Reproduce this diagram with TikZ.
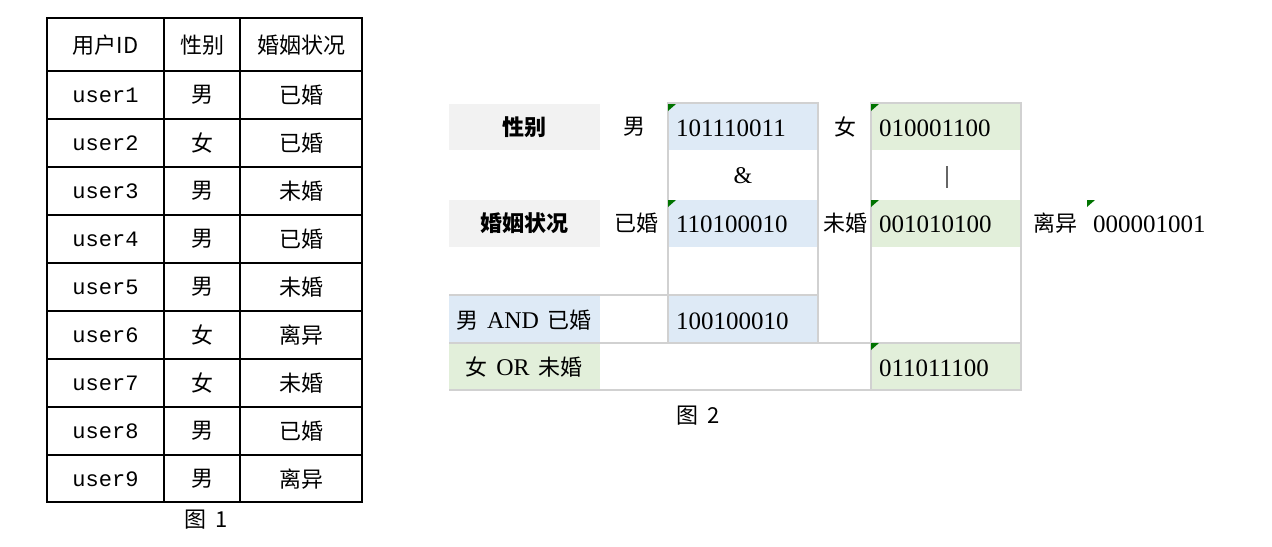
\documentclass[tikz,border=0pt]{standalone}
\usepackage{fontspec}
\setmainfont{Liberation Serif}
\newfontfamily\cjk{Noto Sans CJK SC}
\newfontfamily\cjkm{Noto Sans CJK SC Medium}
\newfontfamily\monof{Liberation Mono}
\begin{document}
\begin{tikzpicture}[x=0.5pt,y=-0.5pt,
  tl/.style={font=\cjk\fontsize{11}{13}\selectfont},
  num/.style={font=\fontsize{12.5}{14}\selectfont,anchor=west},
  hd/.style={font=\cjk\bfseries\fontsize{11}{13}\selectfont},
  grid/.style={draw=black!18,line width=0.7pt},
  tri/.style={fill=green!45!black}]
\useasboundingbox (0,0) rectangle (1272,546);
\definecolor{gbg}{RGB}{242,242,242}
\definecolor{bbg}{RGB}{222,234,246}
\definecolor{ggbg}{RGB}{226,239,218}
% left table
\draw[line width=0.8pt] (47,18) rectangle (362,502);
\foreach \x in {164,240} \draw[line width=0.8pt] (\x,18) -- (\x,502);
\foreach \y in {71,119,167,215,263,311,359,407,455} \draw[line width=0.8pt] (47,\y) -- (362,\y);
\node[tl] (h1) at (105.5,45) {用户ID};
\node[tl] (h2) at (202,45) {性别};
\node[tl] (h3) at (301,45) {婚姻状况};
\foreach[count=\i] \g/\m in {男/已婚,女/已婚,男/未婚,男/已婚,男/未婚,女/离异,女/未婚,男/已婚,男/离异}{
  \pgfmathsetmacro\yy{71+48*(\i-1)+24}
  \node[font=\monof\fontsize{11}{13}\selectfont] (u\i) at (105.5,\yy) {user\i};
  \node[tl] (g\i) at (202,\yy) {\g};
  \node[tl] (m\i) at (301,\yy) {\m};
}
\node[tl] (c1) at (206,520) {图\ \,1};
% right table fills
\fill[gbg] (449,104) rectangle (600,150);
\fill[gbg] (449,200) rectangle (600,247);
\fill[bbg] (668,104) rectangle (818,150);
\fill[bbg] (668,200) rectangle (818,247);
\fill[bbg] (668,295) rectangle (818,343);
\fill[bbg] (449,295) rectangle (600,343);
\fill[ggbg] (871,104) rectangle (1021,150);
\fill[ggbg] (871,200) rectangle (1021,247);
\fill[ggbg] (871,343) rectangle (1021,390);
\fill[ggbg] (449,343) rectangle (600,390);
\draw[grid] (668,103) rectangle (818,343);
\draw[grid] (871,103) rectangle (1021,390);
\draw[grid] (449,295) -- (818,295);
\draw[grid] (449,343) -- (1021,343);
\draw[grid] (449,390) -- (1021,390);
\foreach \p in {(668,104),(668,200),(871,104),(871,200),(871,343),(1087,200)}
  \fill[tri] \p -- ++(8,0) -- ++(-8,7) -- cycle;
\node[hd] (s1) at (524,127) {性别};
\node[hd] (s2) at (524,223) {婚姻状况};
\node[tl] (a1) at (634,127) {男};
\node[tl] (a2) at (636,223) {已婚};
\node[tl] (b1) at (845,127) {女};
\node[tl] (b2) at (845,223) {未婚};
\node[tl] (d2) at (1055,223) {离异};
\node[num] (n1) at (669,128) {101110011};
\node[num] (n2) at (669,224) {110100010};
\node[num] (n3) at (669,321) {100100010};
\node[num] (n4) at (872,128) {010001100};
\node[num] (n5) at (872,224) {001010100};
\node[num] (n6) at (872,368) {011011100};
\node[num] (n7) at (1086,224) {000001001};
\node[font=\fontsize{12}{13}\selectfont] (amp) at (743,176) {\&};
\draw[black!60,line width=0.6pt] (947,166) -- (947,188);
\node[tl] (r1) at (524,320) {男\ \,{\rmfamily\fontsize{12}{13}\selectfont AND}\ \,已婚};
\node[tl] (r2) at (524,367) {女\ \,{\rmfamily\fontsize{12}{13}\selectfont OR}\ \,未婚};
\node[tl] (c2) at (698,416) {图\ \,2};
\end{tikzpicture}
\end{document}
